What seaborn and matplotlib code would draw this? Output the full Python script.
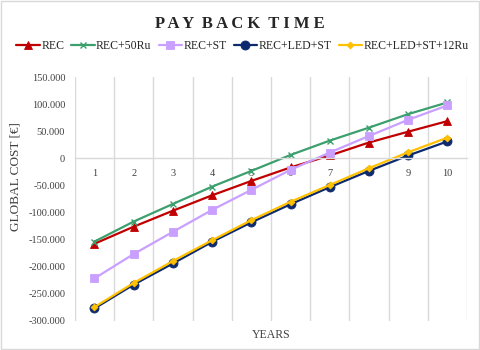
import numpy as np
import pandas as pd
import matplotlib
matplotlib.use('Agg')
import matplotlib.pyplot as plt
import seaborn as sns
from matplotlib.ticker import FuncFormatter, MultipleLocator

years = [1, 2, 3, 4, 5, 6, 7, 8, 9, 10]

rec = [-158000, -126500, -97000, -68500, -42000, -17000, 5000, 29000, 49000, 68500]
rec_50ru = [-154000, -117000, -84500, -52500, -23500, 6000, 32500, 56500, 81500, 103000]
rec_st = [-222000, -177000, -136000, -95500, -58500, -21500, 10500, 41000, 71000, 97500]
rec_led_st = [-277500, -233500, -194500, -154500, -118500, -85000, -53500, -23500, 5000, 31000]
rec_led_st_12ru = [-275000, -230500, -190000, -151500, -114500, -80500, -49500, -18500, 11000, 38000]

series_names = ['REC', 'REC+50Ru', 'REC+ST', 'REC+LED+ST', 'REC+LED+ST+12Ru']
colors = ['#C00000', '#3C9F6E', '#C9A0FF', '#0D2A6E', '#FFC000']
markers = ['^', 'x', 's', 'o', 'D']
msizes = [6, 5, 5.5, 6.5, 3.5]

df = pd.DataFrame({
    'year': years * 5,
    'cost': rec + rec_50ru + rec_st + rec_led_st + rec_led_st_12ru,
    'series': sum([[n] * len(years) for n in series_names], []),
})

sns.set_style('white')
plt.rcParams['font.family'] = ['Liberation Serif', 'DejaVu Serif']

fig = plt.figure(figsize=(4.8, 3.5), dpi=100)
ax = fig.add_axes([0.156, 0.084, 0.817, 0.696])

for name, c, m, ms in zip(series_names, colors, markers, msizes):
    sub = df[df['series'] == name]
    sns.lineplot(data=sub, x='year', y='cost', ax=ax, color=c, marker=m,
                 markersize=ms, linewidth=1.6, label=name,
                 markeredgecolor=c, markeredgewidth=1.0 if m == 'x' else 0.6)

ax.set_xlim(0.5, 10.5)
ax.set_ylim(-300000, 150000)
ax.yaxis.set_major_locator(MultipleLocator(50000))
ax.yaxis.set_major_formatter(FuncFormatter(lambda v, p: f'{int(v):,}'.replace(',', '.')))
ax.set_xticks(years)
ax.xaxis.set_minor_locator(MultipleLocator(1, offset=0.5))
ax.grid(which='minor', axis='x', color='#D9D9D9', linewidth=1.0)
ax.grid(which='major', axis='x', visible=False)
ax.grid(which='major', axis='y', visible=False)

for s in ['top', 'right', 'left']:
    ax.spines[s].set_visible(False)
ax.spines['bottom'].set_position(('data', 0))
ax.spines['bottom'].set_color('#D9D9D9')
ax.spines['bottom'].set_linewidth(1.0)
ax.tick_params(axis='both', which='both', length=0)
ax.tick_params(axis='x', labelsize=7.5, pad=8, colors='#404040')
ax.tick_params(axis='y', labelsize=7.5, pad=7, colors='#404040')

ax.set_xlabel('YEARS', fontsize=8.5, color='#404040')
ax.xaxis.set_label_coords(0.5, -0.035)
ax.set_ylabel('GLOBAL COST [€]', fontsize=9.5, color='#404040')
ax.yaxis.set_label_coords(-0.135, 0.59)

fig.suptitle('P A Y  B A C K  T I M E', fontsize=12, fontweight='bold', y=0.955)

handles, labels = ax.get_legend_handles_labels()
ax.legend(handles, labels, loc='center', bbox_to_anchor=(0.505, 0.868),
          bbox_transform=fig.transFigure, ncol=5, frameon=False, fontsize=8.5,
          handlelength=2.0, handletextpad=0.1, columnspacing=0.6)

border = plt.Rectangle((0.002, 0.002), 0.996, 0.996, transform=fig.transFigure,
                       fill=False, edgecolor='#D9D9D9', linewidth=1.0)
fig.patches.append(border)

fig.savefig('out.png', dpi=100)
